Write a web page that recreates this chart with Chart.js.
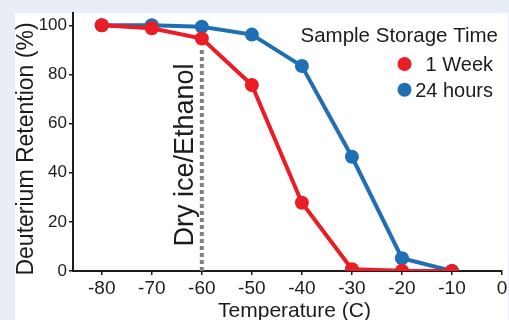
<!DOCTYPE html>
<html>
<head>
<meta charset="utf-8">
<script src="https://cdn.jsdelivr.net/npm/chart.js@4.4.1/dist/chart.umd.min.js"></script>
<style>
  html, body { margin: 0; padding: 0; background: #e9edf6; }
  canvas { display: block; }
</style>
</head>
<body>
<canvas id="chart" width="509" height="320"></canvas>
<script>
// data
const temps = [-80, -70, -60, -50, -40, -30, -20, -10];
const weekRetention = [100, 98.8, 94.6, 75.7, 27.8, 0.7, 0.1, 0];
const hoursRetention = [100, 100, 99.4, 96.2, 83.4, 46.5, 5.2, 0];
const seriesNames = ['1 Week', '24 hours'];
const seriesColors = ['#ec1c24', '#1f6fb5'];
const xTickValues = [-80, -70, -60, -50, -40, -30, -20, -10, 0];
const yTickValues = [0, 20, 40, 60, 80, 100];
const dryIceTemp = -60;
const dryIceTop = 91;

const legendTitle = 'Sample Storage Time';
const xTitle = 'Temperature (C)';
const yTitle = 'Deuterium Retention (%)';
const dryIceLabel = 'Dry ice/Ethanol';

const FONT = "'Liberation Sans', Arial, Helvetica, sans-serif";
const INK = '#1d1b1c';

const toPoints = (vals) => temps.map((t, i) => ({ x: t, y: vals[i] }));

const decor = {
  id: 'decor',
  beforeDraw(chart) {
    const ctx = chart.ctx;
    ctx.save();
    ctx.fillStyle = '#ffffff';
    ctx.fillRect(15, 13, 493, 307);
    ctx.restore();
  },
  afterDraw(chart) {
    const ctx = chart.ctx;
    const { x } = chart.scales;
    ctx.save();
    ctx.fillStyle = INK;

    // axis titles
    ctx.font = '23px ' + FONT;
    ctx.textAlign = 'center';
    ctx.textBaseline = 'alphabetic';
    ctx.save();
    ctx.translate(33, 149);
    ctx.rotate(-Math.PI / 2);
    ctx.fillText(yTitle, 0, 0);
    ctx.restore();

    ctx.font = '21px ' + FONT;
    ctx.fillText(xTitle, 294.5, 316.5);

    // dry ice label next to the dashed line
    ctx.font = '27px ' + FONT;
    ctx.save();
    ctx.translate(x.getPixelForValue(dryIceTemp) - 9, 155);
    ctx.rotate(-Math.PI / 2);
    ctx.fillText(dryIceLabel, 0, 0);
    ctx.restore();

    // legend
    ctx.font = '20.5px ' + FONT;
    ctx.textAlign = 'right';
    ctx.fillText(legendTitle, 498, 41.5);
    ctx.font = '20px ' + FONT;
    const rows = [71, 96.7];
    seriesNames.forEach((name, i) => {
      ctx.fillStyle = seriesColors[i];
      ctx.beginPath();
      ctx.arc(404.5, rows[i] - 7, 7, 0, Math.PI * 2);
      ctx.fill();
      ctx.fillStyle = INK;
      ctx.fillText(name, 493, rows[i]);
    });
    ctx.restore();
  }
};

new Chart(document.getElementById('chart'), {
  type: 'line',
  data: {
    datasets: [
      {
        label: seriesNames[0],
        data: toPoints(weekRetention),
        borderColor: seriesColors[0],
        backgroundColor: seriesColors[0],
        pointBackgroundColor: seriesColors[0],
        borderWidth: 4,
        pointRadius: 7,
        pointBorderWidth: 0,
        order: 1
      },
      {
        label: seriesNames[1],
        data: toPoints(hoursRetention),
        borderColor: seriesColors[1],
        backgroundColor: seriesColors[1],
        pointBackgroundColor: seriesColors[1],
        borderWidth: 4,
        pointRadius: 7,
        pointBorderWidth: 0,
        order: 2
      },
      {
        label: 'dry ice',
        data: [{ x: dryIceTemp, y: 0 }, { x: dryIceTemp, y: dryIceTop }],
        borderColor: '#808080',
        borderWidth: 4,
        borderDash: [4, 3],
        borderCapStyle: 'butt',
        pointRadius: 0,
        order: 3
      }
    ]
  },
  options: {
    responsive: false,
    devicePixelRatio: 1,
    animation: false,
    layout: { padding: { top: 13, right: 4, left: 0, bottom: 0 } },
    plugins: {
      legend: { display: false },
      tooltip: { enabled: false }
    },
    scales: {
      x: {
        type: 'linear',
        min: -85.75,
        max: 0,
        afterBuildTicks: (s) => { s.ticks = xTickValues.map(v => ({ value: v })); },
        afterFit: (s) => { s.height = 49; s.paddingLeft = 0; s.paddingRight = 0; },
        ticks: {
          color: INK,
          font: { family: FONT, size: 19 },
          padding: 2,
          maxRotation: 0,
          autoSkip: false
        },
        grid: { drawOnChartArea: false, drawTicks: true, tickLength: 4, color: INK, lineWidth: 1.5 },
        border: { display: true, color: INK, width: 2 }
      },
      y: {
        min: 0,
        max: 105,
        afterBuildTicks: (s) => { s.ticks = yTickValues.map(v => ({ value: v })); },
        afterFit: (s) => { s.width = 73; s.paddingTop = 0; s.paddingBottom = 0; },
        ticks: {
          color: INK,
          font: { family: FONT, size: 17 },
          padding: 2,
          autoSkip: false
        },
        grid: { drawOnChartArea: false, drawTicks: true, tickLength: 4, color: INK, lineWidth: 1.5 },
        border: { display: true, color: INK, width: 2 }
      }
    }
  },
  plugins: [decor]
});
</script>
</body>
</html>
